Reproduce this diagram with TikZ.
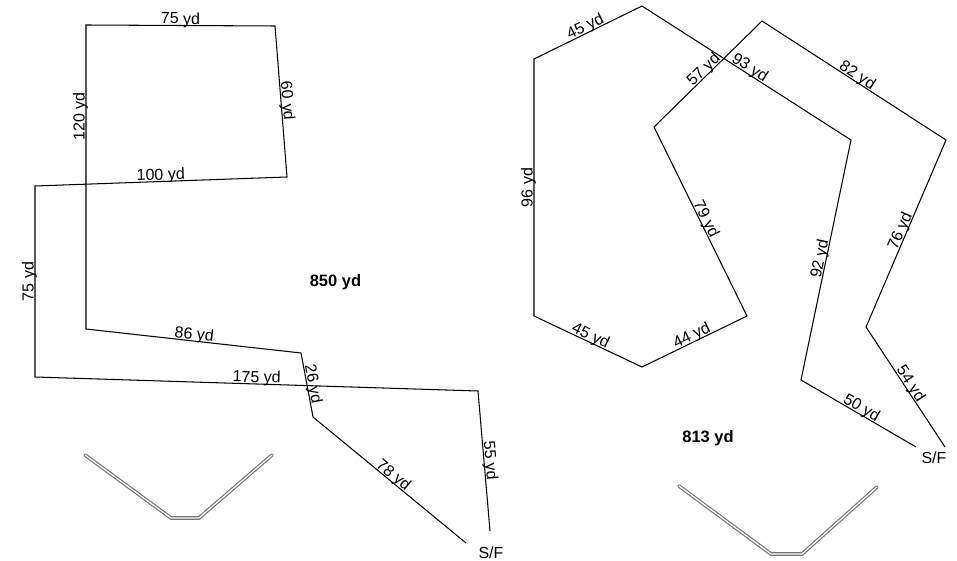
\documentclass[tikz,border=0pt]{standalone}
\usepackage{fontspec}
\setmainfont{Liberation Sans}
\newcommand\ydlabel[1]{\raisebox{1.5pt}{#1 yd}}
\begin{document}
\begin{tikzpicture}[x=1pt,y=-1pt,
  course/.style={draw=black, line width=1.05pt},
  dist/.style={sloped, anchor=base, inner sep=0pt, font=\fontsize{16}{19}\selectfont},
  distv/.style={rotate=90, anchor=base, inner sep=0pt, font=\fontsize{16}{19}\selectfont},
  total/.style={inner sep=0pt, font=\fontsize{16.5}{20}\selectfont\bfseries},
  sf/.style={inner sep=0pt, font=\fontsize{16}{19}\selectfont},
  bendmark/.style={draw=black!55, double=white, double distance=1.3pt, line width=1.15pt, line cap=round}]
\useasboundingbox (0,0) rectangle (957,561);

% ---------- left course ----------
\coordinate (L1) at (490,531);
\coordinate (L2) at (478,391);
\coordinate (L3) at (35,377);
\coordinate (L4) at (35,186);
\coordinate (L5) at (287,177);
\coordinate (L6) at (275,26);
\coordinate (L7) at (86,25);
\coordinate (L8) at (86,329);
\coordinate (L9) at (301,353);
\coordinate (L10) at (313,417);
\coordinate (L11) at (466,543);

\draw[course] (L1)
  -- node[dist] (la) {\ydlabel{55}} (L2)
  -- node[dist] (lb) {\ydlabel{175}} (L3)
  -- node[distv] (lc) {\ydlabel{75}} (L4)
  -- node[dist] (ld) {\ydlabel{100}} (L5)
  -- node[dist] (le) {\ydlabel{60}} (L6)
  -- node[dist] (lf) {\ydlabel{75}} (L7)
  -- node[distv, pos=0.3] (lg) {\ydlabel{120}} (L8)
  -- node[dist] (lh) {\ydlabel{86}} (L9)
  -- node[dist] (li) {\ydlabel{26}} (L10)
  -- node[dist] (lj) {\ydlabel{78}} (L11);

\node[sf] (sfL) at (491,553) {S/F};
\node[total] (totL) at (335.5,282) {850 yd};

\coordinate (B1) at (85,455);
\coordinate (B2) at (171,518);
\coordinate (B3) at (199,518);
\coordinate (B4) at (272,455);
\draw[bendmark] (B1) -- (B2) -- (B3) -- (B4);

% ---------- right course ----------
\coordinate (R1) at (916,447);
\coordinate (R2) at (801,380);
\coordinate (R3) at (851,140);
\coordinate (R4) at (642,6);
\coordinate (R5) at (534,59);
\coordinate (R6) at (534,316);
\coordinate (R7) at (642,367);
\coordinate (R8) at (747,316);
\coordinate (R9) at (654,127);
\coordinate (R10) at (762,21);
\coordinate (R11) at (946,140);
\coordinate (R12) at (866,327);
\coordinate (R13) at (945,447);

\draw[course] (R1)
  -- node[dist] (ra) {\ydlabel{50}} (R2)
  -- node[dist] (rb) {\ydlabel{92}} (R3)
  -- node[dist] (rc) {\ydlabel{93}} (R4)
  -- node[dist] (rd) {\ydlabel{45}} (R5)
  -- node[distv] (re) {\ydlabel{96}} (R6)
  -- node[dist] (rf) {\ydlabel{45}} (R7)
  -- node[dist] (rg) {\ydlabel{44}} (R8)
  -- node[dist] (rh) {\ydlabel{79}} (R9)
  -- node[dist] (ri) {\ydlabel{57}} (R10)
  -- node[dist] (rj) {\ydlabel{82}} (R11)
  -- node[dist] (rk) {\ydlabel{76}} (R12)
  -- node[dist] (rl) {\ydlabel{54}} (R13);

\node[sf] (sfR) at (934,458) {S/F};
\node[total] (totR) at (708,438) {813 yd};

\coordinate (C1) at (679,486);
\coordinate (C2) at (771,554);
\coordinate (C3) at (802,554);
\coordinate (C4) at (877,487);
\draw[bendmark] (C1) -- (C2) -- (C3) -- (C4);
\end{tikzpicture}
\end{document}
